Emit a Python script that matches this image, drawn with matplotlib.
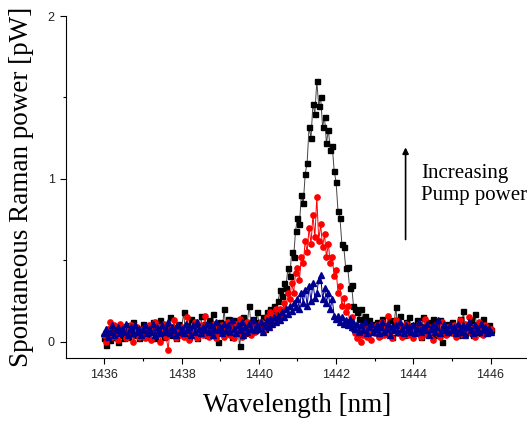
import numpy as np
import matplotlib
matplotlib.use('Agg')
import matplotlib.pyplot as plt

# wavelength sample grid [nm], 0.05 nm step
wavelength = np.linspace(1436, 1446, 201)

# highest pump power (black squares)
power_high = [
    0.02, -0.02, 0.05, 0.01, 0.08, 0.03, 0.06, 0.0, 0.09, 0.04, 0.02, 0.07, 0.03, 0.1, 0.05, 0.12, 0.04, 0.08, 0.02, 0.06,
    0.11, 0.05, 0.03, 0.09, 0.06, 0.12, 0.02, 0.08, 0.05, 0.13, 0.07, 0.03, 0.1, 0.06, 0.15, 0.04, 0.09, 0.02, 0.11, 0.06,
    0.08, 0.18, 0.05, 0.1, 0.03, 0.14, 0.07, 0.12, 0.02, 0.09, 0.16, 0.05, 0.11, 0.04, 0.13, 0.08, 0.17, 0.06, 0.1, 0.0,
    0.12, 0.07, 0.2, 0.05, 0.14, 0.09, 0.03, 0.13, 0.06, 0.1, -0.03, 0.08, 0.15, 0.05, 0.12, 0.22, 0.09, 0.14, 0.07, 0.18,
    0.12, 0.1, 0.15, 0.08, 0.18, 0.12, 0.2, 0.15, 0.22, 0.18,
    0.25, 0.32, 0.28, 0.36, 0.33, 0.45, 0.4, 0.55, 0.52, 0.68,
    0.76, 0.72, 0.9, 0.85, 1.03, 1.1, 1.32, 1.25, 1.46, 1.4,
    1.6, 1.45, 1.5, 1.32, 1.38, 1.22, 1.3, 1.18, 1.2, 1.05,
    0.98, 0.8, 0.76, 0.6, 0.58, 0.45, 0.46, 0.33, 0.35, 0.22,
    0.2, 0.18, 0.14, 0.2, 0.12, 0.16, 0.1, 0.13, 0.08, 0.11,
    0.06, 0.12, 0.04, 0.09, 0.14, 0.05, 0.1, 0.07, 0.13, 0.03, 0.11, 0.21, 0.06, 0.16, 0.09, 0.04, 0.12, 0.07, 0.15, 0.05,
    0.1, 0.06, 0.13, 0.08, 0.03, 0.15, 0.09, 0.05, 0.12, 0.07, 0.14, 0.04, 0.1, 0.06, 0.13, 0.0, 0.09, 0.05, 0.11, 0.07,
    0.12, 0.06, 0.09, 0.04, 0.14, 0.08, 0.19, 0.05, 0.1, 0.07, 0.13, 0.04, 0.17, 0.08, 0.11, 0.05, 0.14, 0.09, 0.06, 0.1, 0.07,
]

# medium pump power (red circles)
power_mid = [
    0.04, 0.0, 0.08, 0.12, 0.03, 0.1, 0.06, 0.01, 0.11, 0.05, 0.09, 0.02, 0.07, 0.04, 0.1, 0.0, 0.06, 0.09, 0.03, 0.05,
    0.08, 0.02, 0.06, 0.1, 0.01, 0.07, 0.12, 0.04, 0.09, 0.0, 0.06, 0.11, 0.03, -0.05, 0.08, 0.05, 0.13, 0.02, 0.07, 0.04,
    0.09, 0.03, 0.06, 0.15, 0.01, 0.08, 0.05, 0.12, 0.02, 0.07, 0.1, 0.04, 0.16, 0.06, 0.03, 0.09, 0.05, 0.11, 0.02, 0.08,
    0.05, 0.1, 0.03, 0.07, 0.12, 0.04, 0.09, 0.02, 0.11, 0.06, 0.14, 0.03, 0.08, 0.05, 0.12, 0.07, 0.04, 0.1, 0.06, 0.09,
    0.08, 0.12, 0.06, 0.1, 0.15, 0.09, 0.18, 0.12, 0.16, 0.2,
    0.14, 0.2, 0.15, 0.24, 0.2, 0.3, 0.26, 0.36, 0.3, 0.42,
    0.45, 0.38, 0.52, 0.48, 0.62, 0.55, 0.7, 0.6, 0.78, 0.64,
    0.89, 0.62, 0.72, 0.58, 0.66, 0.52, 0.6, 0.48, 0.52, 0.4,
    0.44, 0.3, 0.34, 0.22, 0.27, 0.18, 0.22, 0.12, 0.15, 0.08,
    0.05, 0.02, 0.07, 0.0, 0.04, 0.09, 0.03, 0.06, 0.01, 0.08,
    0.05, 0.1, 0.03, 0.07, 0.12, 0.04, 0.09, 0.16, 0.06, 0.02, 0.08, 0.13, 0.05, 0.1, 0.03, 0.07, 0.11, 0.04, 0.09, 0.06,
    0.02, 0.08, 0.05, 0.11, 0.03, 0.07, 0.14, 0.04, 0.09, 0.06, 0.01, 0.1, 0.05, 0.08, 0.03, 0.12, 0.06, 0.04, 0.09, 0.07,
    0.05, 0.1, 0.03, 0.08, 0.13, 0.06, 0.04, 0.11, 0.07, 0.15, 0.05, 0.09, 0.03, 0.08, 0.12, 0.06, 0.04, 0.1, 0.07, 0.05, 0.08,
]

# lowest pump power (blue triangles)
power_low = [
    0.05, 0.08, 0.03, 0.06, 0.1, 0.04, 0.07, 0.09, 0.05, 0.08, 0.06, 0.11, 0.04, 0.07, 0.09, 0.05, 0.1, 0.06, 0.08, 0.04,
    0.07, 0.1, 0.05, 0.08, 0.06, 0.11, 0.04, 0.09, 0.07, 0.05, 0.1, 0.06, 0.08, 0.12, 0.05, 0.09, 0.07, 0.04, 0.1, 0.06,
    0.08, 0.05, 0.11, 0.07, 0.09, 0.04, 0.1, 0.06, 0.12, 0.08, 0.05, 0.09, 0.07, 0.11, 0.06, 0.1, 0.04, 0.08, 0.12, 0.07,
    0.09, 0.05, 0.11, 0.07, 0.1, 0.06, 0.13, 0.08, 0.05, 0.1, 0.07, 0.12, 0.04, 0.09, 0.06, 0.11, 0.08, 0.13, 0.07, 0.1,
    0.08, 0.12, 0.06, 0.1, 0.13, 0.09, 0.14, 0.11, 0.15, 0.12,
    0.16, 0.13, 0.18, 0.15, 0.2, 0.17, 0.22, 0.19, 0.24, 0.21,
    0.26, 0.2, 0.3, 0.24, 0.32, 0.22, 0.34, 0.25, 0.36, 0.27,
    0.3, 0.38, 0.41, 0.26, 0.33, 0.24, 0.3, 0.2, 0.26, 0.16,
    0.14, 0.16, 0.12, 0.15, 0.11, 0.13, 0.1, 0.14, 0.09, 0.12,
    0.08, 0.11, 0.06, 0.1, 0.07, 0.12, 0.05, 0.09, 0.11, 0.06,
    0.08, 0.1, 0.05, 0.09, 0.12, 0.06, 0.08, 0.11, 0.04, 0.09, 0.07, 0.1, 0.06, 0.12, 0.08, 0.05, 0.1, 0.07, 0.09, 0.06,
    0.1, 0.05, 0.08, 0.12, 0.06, 0.09, 0.07, 0.11, 0.04, 0.08, 0.1, 0.06, 0.09, 0.13, 0.05, 0.08, 0.11, 0.07, 0.06, 0.1,
    0.07, 0.09, 0.05, 0.11, 0.08, 0.06, 0.1, 0.04, 0.09, 0.12, 0.07, 0.05, 0.1, 0.08, 0.06, 0.11, 0.07, 0.09, 0.05, 0.08, 0.06,
]

x_ticks = [1436, 1438, 1440, 1442, 1444, 1446]
y_ticks = [0, 1, 2]

fig = plt.figure(figsize=(5.27, 4.23), dpi=100)
ax = fig.add_axes([0.125, 0.154, 0.879, 0.808])

ax.plot(wavelength, power_high, '-s', color='#444444', mfc='#000000', mec='#000000',
        ms=3.6, lw=0.7, zorder=2)
ax.plot(wavelength, power_mid, '-o', color='#ff0000', mfc='#ff0000', mec='#ff0000',
        ms=3.8, lw=0.7, zorder=3)
ax.plot(wavelength, power_low, '-^', color='#000090', mfc='#000090', mec='#000090',
        ms=4.0, lw=0.7, zorder=4)

ax.set_xlim(1435, 1447)
ax.set_ylim(-0.1, 2)
ax.set_xticks(x_ticks)
ax.set_xticks(np.arange(1437, 1447, 2), minor=True)
ax.set_yticks(y_ticks)
ax.set_yticks([0.5, 1.5], minor=True)
ax.set_xticklabels([str(t) for t in x_ticks], family='Liberation Sans', fontsize=9, color='#222222')
ax.set_yticklabels([str(t) for t in y_ticks], family='Liberation Sans', fontsize=9, color='#222222')
ax.tick_params(which='major', direction='out', length=4, width=0.8, pad=4)
ax.tick_params(which='minor', direction='out', length=2.5, width=0.8)

ax.spines['top'].set_visible(False)
ax.spines['right'].set_visible(False)

ax.set_xlabel('Wavelength [nm]', family='Liberation Serif', fontsize=19.5, labelpad=9)
ax.set_ylabel('Spontaneous Raman power [pW]', family='Liberation Serif', fontsize=19.5, labelpad=10)

ax.annotate('', xy=(1443.8, 1.21), xytext=(1443.8, 0.61),
            arrowprops=dict(arrowstyle='-|>', color='black', lw=1.2, mutation_scale=9))
ax.text(1444.2, 0.965, 'Increasing\nPump power', family='Liberation Serif', fontsize=15,
        va='center', ha='left', linespacing=1.15)

fig.savefig('out.png', dpi=100)
